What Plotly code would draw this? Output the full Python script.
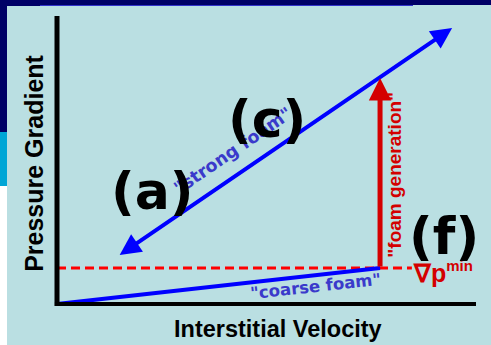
import plotly.graph_objects as go

# ---- data (dimensionless velocity / pressure-gradient units) ----
coarse_velocity = [0.0, 0.771]
coarse_gradient = [0.0, 0.125]

strong_velocity = [0.146, 0.943]   # lower-left tip, upper-right tip
strong_gradient = [0.167, 0.958]

grad_min = 0.125                    # minimum gradient for foam generation
min_line_velocity = [0.0, 0.847]

generation_velocity = 0.771
generation_gradient = [0.125, 0.785]

axis_extent = [1.0, 1.0]           # x-axis length, y-axis length

state_labels = ["(a)", "(c)", "(f)"]
state_velocity = [0.228, 0.500, 0.924]
state_gradient = [0.392, 0.642, 0.236]

# ---- figure geometry ----
W, H = 491, 345
X0_PX, X1_PX = 57, 476      # pixel columns of velocity 0 and 1
Y0_PX, Y1_PX = 304, 16      # pixel rows of gradient 0 and 1
sx = X1_PX - X0_PX
sy = Y0_PX - Y1_PX
x_range = [-X0_PX / sx, (W - X0_PX) / sx]
y_range = [(Y0_PX - H) / sy, Y0_PX / sy]

BG = "#badfe2"
BLUE = "#0000ff"
TEXT_BLUE = "#3a3acb"
RED = "#ff0000"
DARK_RED = "#d40000"
BOLD_V = "DejaVu Sans"
BOLD_A = "Liberation Sans"

fig = go.Figure()

# minimum gradient (dashed)
fig.add_trace(go.Scatter(
    x=min_line_velocity, y=[grad_min, grad_min], mode="lines",
    line=dict(color=RED, width=3, dash="9px,5px"), hoverinfo="skip"))

# coarse foam branch
fig.add_trace(go.Scatter(
    x=coarse_velocity, y=coarse_gradient, mode="lines",
    line=dict(color=BLUE, width=4), hoverinfo="skip"))

# axes lines
fig.add_shape(type="line", x0=0, x1=0, y0=-0.007, y1=axis_extent[1],
              line=dict(color="black", width=5), layer="above")
fig.add_shape(type="line", x0=-0.005, x1=axis_extent[0], y0=0, y1=0,
              line=dict(color="black", width=4), layer="above")

ann = []

# strong foam branch: double-headed arrow
ann.append(dict(
    x=strong_velocity[1], y=strong_gradient[1],
    ax=strong_velocity[0], ay=strong_gradient[0],
    xref="x", yref="y", axref="x", ayref="y", text="",
    showarrow=True, arrowhead=2, startarrowhead=2, arrowside="end+start",
    arrowsize=1.05, startarrowsize=1.05, arrowwidth=4, arrowcolor=BLUE,
    standoff=0, startstandoff=0))

# foam generation arrow
ann.append(dict(
    x=generation_velocity, y=generation_gradient[1],
    ax=generation_velocity, ay=generation_gradient[0],
    xref="x", yref="y", axref="x", ayref="y", text="",
    showarrow=True, arrowhead=2, arrowsize=0.9, arrowwidth=5,
    arrowcolor=DARK_RED, standoff=0))

# branch labels
ann.append(dict(x=0.419, y=0.530, xref="x", yref="y", text='"strong foam"',
                textangle=-34.5, showarrow=False,
                font=dict(family=BOLD_V, size=17.5, color=TEXT_BLUE, weight="bold")))
ann.append(dict(x=0.616, y=0.0625, xref="x", yref="y", text='"coarse foam"',
                textangle=-6.3, showarrow=False,
                font=dict(family=BOLD_V, size=16.5, color=TEXT_BLUE, weight="bold")))
ann.append(dict(x=0.806, y=0.448, xref="x", yref="y", text='"foam generation"',
                textangle=-90, showarrow=False,
                font=dict(family=BOLD_A, size=19, color=DARK_RED, weight="bold")))
ann.append(dict(x=0.845, y=0.112, xref="x", yref="y", xanchor="left",
                text="∇p<sup><span style='font-size:15px'>min</span></sup>",
                showarrow=False,
                font=dict(family=BOLD_A, size=25, color=DARK_RED, weight="bold")))

# state labels
for lab, vx, gy in zip(state_labels, state_velocity, state_gradient):
    ann.append(dict(x=vx, y=gy, xref="x", yref="y", text=lab, showarrow=False,
                    font=dict(family=BOLD_V, size=52, color="black", weight="bold")))

# axis titles
ann.append(dict(x=-0.055, y=0.49, xref="x", yref="y", text="Pressure Gradient",
                textangle=-90, showarrow=False,
                font=dict(family=BOLD_A, size=25, color="black", weight="bold")))
ann.append(dict(x=0.5275, y=-0.0868, xref="x", yref="y", text="Interstitial Velocity",
                showarrow=False,
                font=dict(family=BOLD_A, size=23.5, color="black", weight="bold")))

# slide decoration along the left and top edges
shapes_bg = [
    dict(type="rect", xref="paper", yref="paper", x0=0, x1=7 / W, y0=1 - 132 / H, y1=1,
         fillcolor="#000066", line_width=0, layer="above"),
    dict(type="rect", xref="paper", yref="paper", x0=0, x1=7 / W, y0=1 - 186 / H, y1=1 - 132 / H,
         fillcolor="#00a6d6", line_width=0, layer="above"),
    dict(type="rect", xref="paper", yref="paper", x0=0, x1=7 / W, y0=0, y1=1 - 186 / H,
         fillcolor="white", line_width=0, layer="above"),
    dict(type="rect", xref="paper", yref="paper", x0=0, x1=1, y0=1 - 5 / H, y1=1,
         fillcolor="#000066", line_width=0, layer="above"),
    dict(type="rect", xref="paper", yref="paper", x0=7 / W, x1=40 / W, y0=1 - 6 / H, y1=1 - 5 / H,
         fillcolor="#000066", line_width=0, layer="above"),
    dict(type="rect", xref="paper", yref="paper", x0=40 / W, x1=413 / W, y0=1 - 6 / H, y1=1 - 5 / H,
         fillcolor="#3333cc", line_width=0, layer="above"),
]
for s in shapes_bg:
    fig.add_shape(**s)

fig.update_layout(
    width=W, height=H, margin=dict(l=0, r=0, t=0, b=0),
    paper_bgcolor=BG, plot_bgcolor=BG, showlegend=False,
    xaxis=dict(range=x_range, visible=False, fixedrange=True),
    yaxis=dict(range=y_range, visible=False, fixedrange=True),
    annotations=ann,
)

fig.write_html("out.html", config={"displayModeBar": False})
